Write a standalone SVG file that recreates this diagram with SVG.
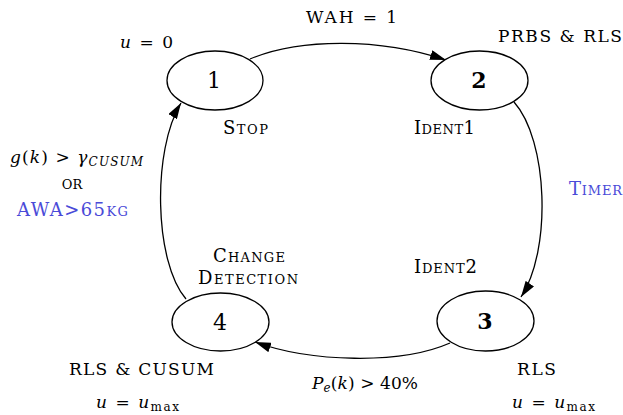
<svg xmlns="http://www.w3.org/2000/svg" width="623" height="415" viewBox="0 0 623 415">
<defs>
<style>
text{font-family:'DejaVu Serif','Liberation Serif',serif;fill:#000;}
.lbl{font-size:17px;}
.sc{font-size:18px;font-variant:small-caps;}
.blue{fill:#4a4ad8;}
.num{font-size:22px;text-anchor:middle;}
.b{font-weight:bold;}
.i{font-style:italic;}
.node{fill:#fff;stroke:#000;stroke-width:1.3;}
.edge{fill:none;stroke:#000;stroke-width:1.3;}
</style>
<marker id="ah" viewBox="0 0 16 10" refX="16" refY="5" markerWidth="16" markerHeight="10" markerUnits="userSpaceOnUse" orient="auto">
<path d="M0,0 L16,5 L0,10 Z" fill="#000"/>
</marker>
</defs>
<rect width="623" height="415" fill="#fff"/>
<g id="connectors">
<path class="edge" d="M250,59 C300,38 380,38 446,60" marker-end="url(#ah)"/>
<path class="edge" d="M514,102 C548,140 552,250 521,297" marker-end="url(#ah)"/>
<path class="edge" d="M450,343 C400,365 310,362 255,342" marker-end="url(#ah)"/>
<path class="edge" d="M186,299 C154,262 152,150 181,103" marker-end="url(#ah)"/>
</g>
<g id="node1">
<ellipse class="node" cx="215" cy="80.5" rx="48" ry="29.5"/>
<text class="num" x="214" y="88">1</text>
</g>
<g id="node2">
<ellipse class="node" cx="479.5" cy="80.5" rx="48.5" ry="29.5"/>
<text class="num b" x="479" y="88">2</text>
</g>
<g id="node3">
<ellipse class="node" cx="485.5" cy="321" rx="48.5" ry="30"/>
<text class="num b" x="485" y="329">3</text>
</g>
<g id="node4">
<ellipse class="node" cx="220.5" cy="322" rx="48.5" ry="29"/>
<text class="num" x="220" y="330">4</text>
</g>
<g id="labels">
<text class="lbl" x="120" y="48" textLength="53" lengthAdjust="spacing"><tspan class="i">u</tspan> = 0</text>
<text class="lbl" x="306" y="23" textLength="91" lengthAdjust="spacing">WAH = 1</text>
<text class="lbl" x="498" y="42" textLength="124" lengthAdjust="spacing">PRBS &amp; RLS</text>
<text class="sc" x="223" y="134" textLength="45" lengthAdjust="spacing">Stop</text>
<text class="sc" x="414" y="134" textLength="61" lengthAdjust="spacing">Ident1</text>
<text class="lbl" x="10" y="163" textLength="133" lengthAdjust="spacing"><tspan class="i">g</tspan>(<tspan class="i">k</tspan>) &gt; <tspan class="i">γ</tspan><tspan class="i" font-size="12" dy="3">CUSUM</tspan></text>
<text class="sc" x="72" y="189" text-anchor="middle">or</text>
<text class="sc blue" x="17" y="216" textLength="111" lengthAdjust="spacing">AWA&gt;65kg</text>
<text class="sc blue" x="569" y="195" textLength="53" lengthAdjust="spacing">Timer</text>
<text class="sc" x="213" y="262" textLength="72" lengthAdjust="spacing">Change</text>
<text class="sc" x="198" y="284" textLength="100" lengthAdjust="spacing">Detection</text>
<text class="sc" x="414" y="273" textLength="63" lengthAdjust="spacing">Ident2</text>
<text class="lbl" x="69" y="375" textLength="145" lengthAdjust="spacing">RLS &amp; CUSUM</text>
<text class="lbl" x="96" y="408" textLength="83" lengthAdjust="spacing"><tspan class="i">u</tspan> = <tspan class="i">u</tspan><tspan font-size="12" dy="3">max</tspan></text>
<text class="lbl" x="312" y="389" textLength="106" lengthAdjust="spacing"><tspan class="i">P</tspan><tspan class="i" font-size="12" dy="3">e</tspan><tspan dy="-3">(</tspan><tspan class="i">k</tspan>) &gt; 40%</text>
<text class="lbl" x="517" y="375" textLength="39" lengthAdjust="spacing">RLS</text>
<text class="lbl" x="512" y="408" textLength="83" lengthAdjust="spacing"><tspan class="i">u</tspan> = <tspan class="i">u</tspan><tspan font-size="12" dy="3">max</tspan></text>
</g>
</svg>
